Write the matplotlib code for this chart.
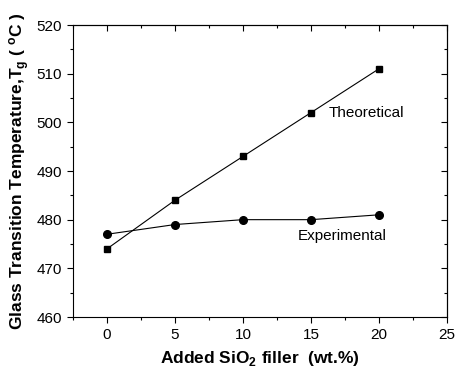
import matplotlib
matplotlib.use('Agg')
import matplotlib.pyplot as plt
from matplotlib.ticker import MultipleLocator

# data
filler = [0, 5, 10, 15, 20]
tg_theoretical = [474, 484, 493, 502, 511]
tg_experimental = [477, 479, 480, 480, 481]

plt.rcParams['font.family'] = ['Liberation Sans', 'DejaVu Sans']
plt.rcParams['mathtext.fontset'] = 'custom'
plt.rcParams['mathtext.rm'] = 'Liberation Sans'
plt.rcParams['mathtext.bf'] = 'Liberation Sans:bold'

fig = plt.figure(figsize=(4.56, 3.74), dpi=100)
ax = fig.add_axes([73 / 456, 1 - 317 / 374, (447 - 73) / 456, (317 - 25) / 374])

ax.plot(filler, tg_theoretical, color='black', lw=0.8, marker='s', markersize=5)
ax.plot(filler, tg_experimental, color='black', lw=0.8, marker='o', markersize=5.5)

ax.text(16.3, 502, 'Theoretical', fontsize=11, va='center', ha='left')
ax.text(14.0, 476.6, 'Experimental', fontsize=11, va='center', ha='left')

ax.set_xlim(-2.5, 25)
ax.set_ylim(460, 520)
ax.xaxis.set_major_locator(MultipleLocator(5))
ax.xaxis.set_minor_locator(MultipleLocator(2.5))
ax.yaxis.set_major_locator(MultipleLocator(10))
ax.yaxis.set_minor_locator(MultipleLocator(5))
ax.tick_params(which='both', direction='out', top=False, right=False, labelsize=11, width=0.8)
ax.tick_params(which='major', length=4, pad=4)
ax.tick_params(which='minor', length=2.5)

# inward ticks on top and right
sec_x = ax.secondary_xaxis('top')
sec_x.xaxis.set_major_locator(MultipleLocator(5))
sec_x.xaxis.set_minor_locator(MultipleLocator(2.5))
sec_x.tick_params(which='both', direction='in', labeltop=False, width=0.8)
sec_x.tick_params(which='major', length=4)
sec_x.tick_params(which='minor', length=2.5)
sec_y = ax.secondary_yaxis('right')
sec_y.yaxis.set_major_locator(MultipleLocator(10))
sec_y.yaxis.set_minor_locator(MultipleLocator(5))
sec_y.tick_params(which='both', direction='in', labelright=False, width=0.8)
sec_y.tick_params(which='major', length=4)
sec_y.tick_params(which='minor', length=2.5)

for s in ax.spines.values():
    s.set_linewidth(0.8)

ax.set_xlabel('Added SiO$_\\mathbf{2}$ filler  (wt.%)', fontsize=12.5, fontweight='bold', labelpad=5)
ax.set_ylabel('Glass Transition Temperature,T$_\\mathbf{g}$ ( $\\mathbf{^o}$C )', fontsize=12.5,
              fontweight='bold', labelpad=3)

fig.savefig('out.png', dpi=100)
